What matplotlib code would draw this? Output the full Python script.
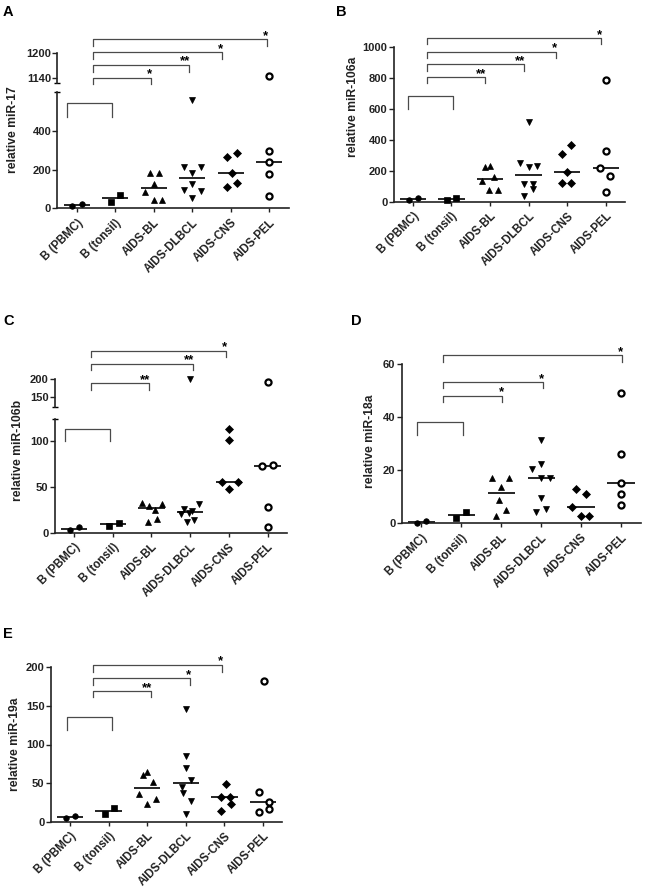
import matplotlib
matplotlib.use('Agg')
import matplotlib.pyplot as plt
import numpy as np

plt.rcParams['font.family'] = ['Liberation Sans', 'DejaVu Sans']

W, H = 645, 892

groups = ['B (PBMC)', 'B (tonsil)', 'AIDS-BL', 'AIDS-DLBCL', 'AIDS-CNS', 'AIDS-PEL']

# values, one list per group
mir17 = [[12, 22], [33, 70], [182, 182, 124, 85, 45, 45],
         [212, 181, 212, 128, 97, 88, 54, 560],
         [264, 285, 181, 108, 133], [1145, 296, 241, 179, 64]]
mir106a = [[11, 22], [11, 26], [222, 232, 133, 161, 77, 77],
           [252, 224, 232, 115, 115, 85, 37, 516],
           [308, 368, 191, 123, 123], [785, 327, 219, 166, 60]]
mir106b = [[2.9, 6.2], [7.7, 10.6], [32, 29, 31, 24.5, 12, 15.3],
           [31, 25.5, 24, 22, 20.5, 13.5, 12, 200],
           [114, 101.5, 56, 56, 47.5], [193, 73, 74.5, 27.7, 6.6]]
mir18a = [[0.1, 0.8], [2.0, 4.1], [16.9, 16.9, 13.8, 8.8, 5.1, 2.9],
          [31.3, 22.5, 20.3, 17.0, 17.0, 9.4, 4.4, 5.4],
          [13.1, 11.0, 6.0, 2.9, 2.9], [48.9, 26, 15, 11, 6.9]]
mir19a = [[5.2, 7.8], [10.4, 17.7], [61, 64, 51, 36, 23, 29],
          [145.6, 85, 70, 54, 45, 37.6, 27, 10],
          [48.8, 32.4, 32.4, 22.9, 13.4], [182, 38, 25.5, 12, 16]]

# horizontal spread of the points (category units), like the prism scatter
jit17 = [[-0.11, 0.13], [-0.11, 0.13], [-0.1, 0.14, 0, -0.22, 0, 0.22],
         [-0.22, 0, 0.22, 0, -0.22, 0.22, 0, 0],
         [-0.09, 0.15, 0.02, -0.09, 0.15], [0, 0, 0, 0, 0]]
jit106a = [[-0.11, 0.13], [-0.12, 0.12], [-0.12, 0, -0.2, 0.11, -0.02, 0.22],
           [-0.22, 0.02, 0.22, -0.12, 0.11, 0.11, -0.12, 0.02],
           [-0.14, 0.1, 0, -0.14, 0.1], [0, 0, -0.16, 0.1, 0]]
jit106b = [[-0.1, 0.14], [-0.1, 0.15], [-0.23, -0.06, 0.28, 0.1, -0.1, 0.15],
           [0.24, -0.17, 0.04, -0.03, -0.24, 0.1, -0.09, 0],
           [0, 0, -0.18, 0.25, 0], [0, -0.13, 0.13, 0, 0]]
jit18a = [[-0.12, 0.11], [-0.13, 0.11], [-0.23, 0.2, 0, -0.05, 0.12, -0.12],
          [0, 0, -0.23, 0, 0.22, 0, -0.13, 0.11],
          [-0.13, 0.12, -0.23, 0, 0.21], [0, 0, 0, 0, 0]]
jit19a = [[-0.1, 0.13], [-0.1, 0.14], [-0.12, 0, 0.15, -0.21, 0, 0.22],
          [0, 0, 0, 0.13, -0.1, -0.06, 0.14, 0],
          [0.03, -0.1, 0.14, 0.16, -0.1], [0.03, -0.1, 0.15, -0.1, 0.15]]

markers = [dict(marker='o', ms=4.0, mfc='k', mec='k', mew=0.5),
           dict(marker='s', ms=4.3, mfc='k', mec='k', mew=0.5),
           dict(marker='^', ms=5.0, mfc='k', mec='k', mew=0.5),
           dict(marker='v', ms=5.0, mfc='k', mec='k', mew=0.5),
           dict(marker='D', ms=3.6, mfc='k', mec='k', mew=0.5),
           dict(marker='o', ms=4.4, mfc='white', mec='k', mew=1.6)]

panels = [
    dict(letter='A', letter_xy=(3, 5), data=mir17, jit=jit17, ylabel='relative miR-17',
         ylabel_xy=(13, 130), x=(57.4, 288.6),
         lo=(92.2, 208.3, (0, 600), [0, 200, 400]),
         hi=(53.3, 82.5, (1130, 1200), [1140, 1200]),
         brackets=[('lo', -0.24, 0.925, 543, 473, ''),
                   ('hi', 0.43, 1.92, 1141.4, 1126, '*'),
                   ('hi', 0.43, 2.92, 1172, 1156, '**'),
                   ('hi', 0.43, 3.77, 1202, 1186, '*'),
                   ('hi', 0.43, 4.93, 1233.6, 1217.5, '*')]),
    dict(letter='B', letter_xy=(336, 5), data=mir106a, jit=jit106a, ylabel='relative miR-106a',
         ylabel_xy=(353, 107), x=(393.5, 625.1),
         lo=(46.7, 201.7, (0, 1000), [0, 200, 400, 600, 800, 1000]), hi=None,
         brackets=[('lo', -0.12, 1.05, 682, 596, ''),
                   ('lo', 0.38, 1.88, 802, 764, '**'),
                   ('lo', 0.38, 2.87, 886, 845, '**'),
                   ('lo', 0.38, 3.71, 968, 929, '*'),
                   ('lo', 0.38, 4.88, 1054, 1015, '*')]),
    dict(letter='C', letter_xy=(3, 314), data=mir106b, jit=jit106b, ylabel='relative miR-106b',
         ylabel_xy=(18, 450), x=(54.65, 286.85),
         lo=(418.5, 532.7, (0, 125), [0, 50, 100]),
         hi=(379, 406.5, (125, 200), [150, 200]),
         brackets=[('lo', -0.23, 0.93, 114, 100.7, ''),
                   ('hi', 0.43, 1.93, 188, 170, '**'),
                   ('hi', 0.43, 3.08, 241, 224.6, '**'),
                   ('hi', 0.43, 3.92, 276.5, 259, '*')]),
    dict(letter='D', letter_xy=(351, 314), data=mir18a, jit=jit18a, ylabel='relative miR-18a',
         ylabel_xy=(370, 441), x=(401.5, 640.9),
         lo=(364, 523.3, (0, 60), [0, 20, 40, 60]), hi=None,
         brackets=[('lo', -0.12, 1.05, 38.1, 33.3, ''),
                   ('lo', 0.55, 2.03, 48.1, 45.8, '*'),
                   ('lo', 0.55, 3.04, 53.1, 50.8, '*'),
                   ('lo', 0.55, 5.03, 63.3, 60.8, '*')]),
    dict(letter='E', letter_xy=(3, 627), data=mir19a, jit=jit19a, ylabel='relative miR-19a',
         ylabel_xy=(15, 744), x=(50.7, 282.3),
         lo=(667.3, 821.7, (0, 200), [0, 50, 100, 150, 200]), hi=None,
         brackets=[('lo', -0.07, 1.1, 136, 119, ''),
                   ('lo', 0.59, 2.1, 169, 161, '**'),
                   ('lo', 0.59, 3.1, 186, 177, '*'),
                   ('lo', 0.59, 3.93, 203, 194, '*')]),
]

fig = plt.figure(figsize=(W / 100, H / 100), dpi=100)


def px_axes(left, top, right, bottom):
    return fig.add_axes([left / W, 1 - bottom / H, (right - left) / W, (bottom - top) / H])


def style(ax, yticks, cap=None):
    for s in ['top', 'right']:
        ax.spines[s].set_visible(False)
    for s in ['left', 'bottom']:
        ax.spines[s].set_linewidth(1.2)
        ax.spines[s].set_color('#222222')
    ax.set_facecolor('none')
    ax.set_yticks(yticks)
    ax.set_yticklabels([str(t) for t in yticks], fontsize=8, fontweight='bold', color='#222222')
    ax.tick_params(axis='y', length=3.5, width=1.0, color='#222222', pad=1)
    if cap is not None:
        ax.set_yticks([cap], minor=True)
        ax.tick_params(axis='y', which='minor', direction='inout', length=5, width=1.0)


for p in panels:
    x0, x1 = p['x']
    top, bot, ylim, yt = p['lo']
    lo = px_axes(x0, top, x1, bot)
    lo.set_xlim(-0.5, 5.5)
    lo.set_ylim(*ylim)
    style(lo, yt, cap=ylim[1] if p['hi'] else None)
    lo.set_xticks(range(len(groups)))
    lo.set_xticklabels(groups, rotation=45, ha='right', va='top', rotation_mode='anchor',
                       fontsize=8.3, fontweight='bold', color='#222222')
    lo.tick_params(axis='x', length=3, width=1.0, color='#222222', pad=3)
    axes = {'lo': lo}
    split = None
    if p['hi']:
        htop, hbot, hylim, hyt = p['hi']
        hi = px_axes(x0, htop, x1, hbot)
        hi.set_xlim(-0.5, 5.5)
        hi.set_ylim(*hylim)
        style(hi, hyt, cap=hylim[0])
        hi.spines['bottom'].set_visible(False)
        hi.set_xticks([])
        axes['hi'] = hi
        split = hylim[0]

    for i, (vals, jit) in enumerate(zip(p['data'], p['jit'])):
        vals = np.array(vals, dtype=float)
        xs = i + np.array(jit)
        med = np.median(vals)
        lo.hlines(med, i - 0.34, i + 0.34, color='k', lw=1.2, zorder=2)
        if split is not None:
            up = vals >= split
            axes['hi'].plot(xs[up], vals[up], ls='none', zorder=3, clip_on=False, **markers[i])
            lo.plot(xs[~up], vals[~up], ls='none', zorder=3, clip_on=False, **markers[i])
        else:
            lo.plot(xs, vals, ls='none', zorder=3, clip_on=False, **markers[i])

    for where, bx0, bx1, ytop, yleg, lab in p['brackets']:
        ax = axes[where]
        ax.plot([bx0, bx0, bx1, bx1], [yleg, ytop, ytop, yleg], color='#4a4a4a',
                lw=0.9, clip_on=False, zorder=2)
        if lab:
            ax.annotate(lab, (bx1, ytop), xytext=(0.8, 0.3), textcoords='offset points',
                        ha='right', va='baseline', fontsize=9.5, fontweight='bold',
                        annotation_clip=False)

    fig.text(p['ylabel_xy'][0] / W, 1 - p['ylabel_xy'][1] / H, p['ylabel'], rotation=90,
             ha='center', va='center', fontsize=8.7, fontweight='bold', color='#222222')
    fig.text(p['letter_xy'][0] / W, 1 - p['letter_xy'][1] / H, p['letter'],
             ha='left', va='top', fontsize=10.5, fontweight='bold')

fig.savefig('out.png', dpi=100)
